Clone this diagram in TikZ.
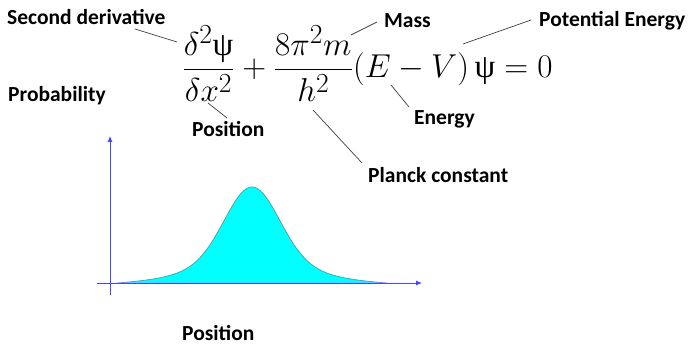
\documentclass[tikz,border=0pt]{standalone}
\usepackage{amsmath}
\usepackage{graphicx}
\usepackage{fontspec}
\setmainfont{Carlito}
\newfontfamily\grk{Liberation Serif}
\usetikzlibrary{arrows.meta}
\definecolor{aqua}{RGB}{0,255,255}
\definecolor{axblue}{RGB}{70,70,255}
\begin{document}
\begin{tikzpicture}[x=1pt,y=-1pt,
  lbl/.style={font=\fontsize{21.5}{25}\selectfont\bfseries, anchor=base west, inner sep=0pt},
  leader/.style={draw=black!75, line width=0.7pt},
  axis/.style={draw=axblue, line width=0.8pt},
  eqn/.style={font=\Huge, inner sep=0pt}]
\useasboundingbox (0,0) rectangle (688,347);
% labels
\node[lbl] (sd) at (7,25) {Second derivative};
\node[lbl] (prob) at (8,102) {Probability};
\node[lbl] (pos1) at (192,137) {Position};
\node[lbl] (mass) at (384,28) {Mass};
\node[lbl] (pe) at (539,27) {Potential Energy};
\node[lbl] (en) at (414,125) {Energy};
\node[lbl] (pl) at (368,183) {Planck constant};
\node[lbl] (pos2) at (182,341) {Position};
% equation
\node[eqn, anchor=base west] (eq) at (182,78) {\scalebox{1.33}{$\dfrac{\delta^2\mbox{\grk ψ}}{\delta x^2}+\dfrac{8\pi^2m}{h^2}(E-V)\,\mbox{\grk ψ}=0$}};
% leader endpoints
\coordinate (a1) at (135,29); \coordinate (a2) at (177,42);
\coordinate (b1) at (208,103); \coordinate (b2) at (227,118);
\coordinate (c1) at (351,35); \coordinate (c2) at (377,22);
\coordinate (d1) at (463,44); \coordinate (d2) at (531,20);
\coordinate (e1) at (391,85); \coordinate (e2) at (409,107);
\coordinate (f1) at (313,110); \coordinate (f2) at (362,163);
\draw[leader] (a1) -- (a2);
\draw[leader] (b1) -- (b2);
\draw[leader] (c1) -- (c2);
\draw[leader] (d1) -- (d2);
\draw[leader] (e1) -- (e2);
\draw[leader] (f1) -- (f2);
% curve
\fill[aqua] plot[domain=-135:135, samples=120, smooth] ({252+\x},{283-(42/(1+(\x/55)^2)+60*exp(-(\x/38)^2)-6)}) -- cycle;
\draw[black!45, line width=0.8pt] plot[domain=-135:135, samples=120, smooth] ({252+\x},{283-(42/(1+(\x/55)^2)+60*exp(-(\x/38)^2)-6)});
% axes
\coordinate (o1) at (97,283); \coordinate (o2) at (422,283);
\coordinate (v1) at (110,295); \coordinate (v2) at (110,136);
\draw[axis, -{Latex[length=6pt,width=5pt]}] (o1) -- (o2);
\draw[axis, -{Latex[length=6pt,width=5pt]}] (v1) -- (v2);
\end{tikzpicture}
\end{document}
